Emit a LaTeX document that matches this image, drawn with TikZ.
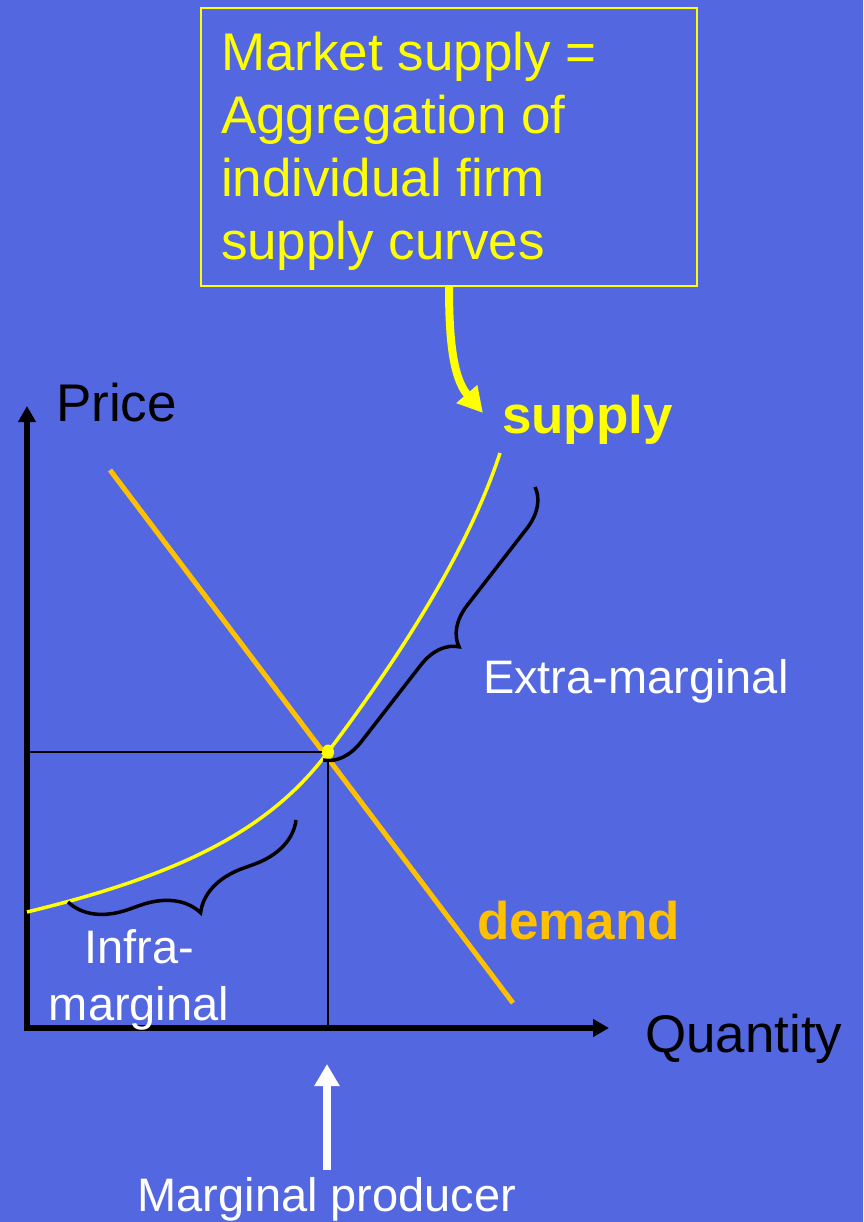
\documentclass[tikz,border=0pt]{standalone}
\usepackage{fontspec}
\setmainfont{Liberation Sans}
\usetikzlibrary{arrows.meta, positioning, decorations.pathreplacing}
\definecolor{slidebg}{RGB}{82,103,224}
\definecolor{supplyyel}{RGB}{255,255,0}
\definecolor{demandorg}{RGB}{255,192,0}

\begin{document}
\begin{tikzpicture}[x=1pt, y=-1pt,
    every node/.style={inner sep=0pt, outer sep=0pt},
    bigtext/.style={font=\fontsize{53}{63}\selectfont},
    boldlbl/.style={font=\fontsize{53}{63}\selectfont\bfseries},
    smalltext/.style={font=\fontsize{47}{57}\selectfont, text=white},
    axisline/.style={line width=5.5pt, line cap=rect,
                     -{Triangle[length=16pt,width=17pt]}},
    guide/.style={line width=1.6pt},
    bracestyle/.style={line width=3.5pt, decorate},
  ]
  \fill[slidebg] (0,0) rectangle (863,1222);
  \useasboundingbox (0,0) rectangle (863,1222);

  % the text box and its arrow
  \node[draw=supplyyel, line width=2.5pt, minimum width=496pt,
        minimum height=278pt, anchor=north west] (mktbox) at (201,8) {};
  \node[bigtext, text=supplyyel, align=left, anchor=north west]
    (mkttxt) at (221,32.5) {Market supply =\\Aggregation of\\individual firm\\supply curves};
  \coordinate (arrtip) at (483,413);
  \draw[supplyyel, line width=8pt, -{Triangle[length=25pt,width=26pt]}]
    (mktbox.south) .. controls (449,340) and (453,378) .. (arrtip);
  \node[boldlbl, text=supplyyel, anchor=base west] (suplbl) at (502,433) {supply};

  % axes
  \coordinate (origin) at (27,1028);
  \draw[axisline] (origin) -- (27,406) coordinate (ytip);
  \draw[axisline] (origin) -- (609,1028) coordinate (xtip);
  \node[bigtext, anchor=base west] (pricelbl) at (56,421) {Price};
  \node[bigtext, anchor=base west] (qtylbl) at (645,1052) {Quantity};

  % demand and supply
  \coordinate (eq) at (328,752);
  \draw[demandorg, line width=5pt] (110,470) coordinate (dtop) -- (513,1003) coordinate (dbot);
  \node[boldlbl, text=demandorg, anchor=base west] (demlbl) at (477,939) {demand};
  \draw[guide] (origin |- eq) -- (eq) -- (eq |- origin);
  \draw[supplyyel, line width=3.5pt]
    (27,912) .. controls (180,875) and (270,830) .. (eq)
    .. controls (370,696) and (462,570) .. (500,453);
  \fill[supplyyel] (eq) ellipse (6pt and 7.5pt);

  % braces
  \draw[bracestyle, decoration={brace, amplitude=38pt}] (535,487) -- (323,760);
  \node[smalltext, anchor=base west] (extralbl) at (483,693) {Extra-marginal};
  \draw[bracestyle, decoration={brace, amplitude=55pt}] (296,820) -- (68,902);
  \node[smalltext, align=center, anchor=north] (infralbl) at (139,929) {Infra-\\marginal};

  % marginal producer
  \coordinate (mptip) at (327,1064);
  \node[smalltext, anchor=base] (mplbl) at (327,1211) {Marginal producer};
  \draw[white, line width=8pt, -{Triangle[length=22pt,width=24pt]}]
    ([yshift=7pt]mplbl.north) -- (mptip);
\end{tikzpicture}
\end{document}
